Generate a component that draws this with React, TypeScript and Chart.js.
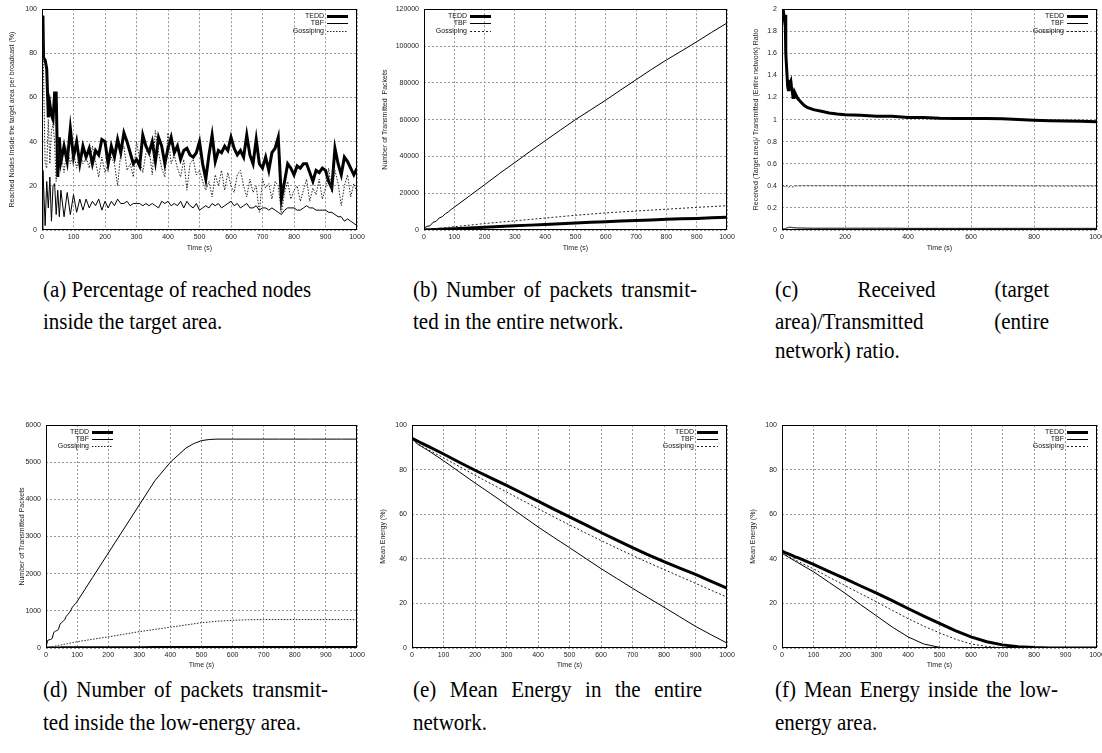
import React, { useEffect, useRef } from 'react';
import { Chart, registerables } from 'chart.js';

Chart.register(...registerables);

const FONT = '"Liberation Sans", Arial, Helvetica, sans-serif';
const SERIF = '"Liberation Serif", "Times New Roman", Times, serif';

// ---------- (a) Percentage of reached nodes inside the target area ----------
const timeA = [0, 3, 5, 10, 15, 20, 25, 30, 35, 40, 45, 50, 55,
  60, 70, 80, 90, 100, 110, 120, 130, 140, 150, 160, 170, 180, 190, 200,
  210, 220, 230, 240, 250, 260, 270, 280, 290, 300, 310, 320, 330, 340, 350, 360, 370, 380, 390, 400,
  410, 420, 430, 440, 450, 460, 470, 480, 490, 500, 510, 520, 530, 540, 550, 560, 570, 580, 590, 600,
  610, 620, 630, 640, 650, 660, 670, 680, 690, 700, 710, 720, 730, 740, 750, 760, 770, 780, 790, 800,
  810, 820, 830, 840, 850, 860, 870, 880, 890, 900, 910, 920, 930, 940, 950, 960, 970, 980, 990, 1000];
const teddA = [97, 96, 78, 77, 73, 51, 57, 52, 50, 62, 62, 24, 42,
  31, 38, 31, 46, 33, 40, 30, 38, 33, 37, 30, 36, 34, 41, 40,
  30, 38, 33, 41, 35, 44, 40, 35, 30, 32, 29, 43, 38, 35, 40, 31, 42, 38, 30, 37,
  42, 35, 38, 32, 36, 37, 34, 33, 35, 40, 30, 23, 34, 43, 31, 36, 35, 38, 36, 42,
  37, 34, 36, 33, 43, 34, 30, 41, 30, 28, 33, 27, 35, 37, 42, 14, 22, 30, 28, 25,
  29, 28, 30, 30, 26, 22, 27, 26, 28, 27, 22, 19, 37, 30, 25, 33, 31, 28, 25, 28];
const tbfA = [0, 27, 20, 2, 22, 10, 24, 4, 20, 21, 7, 18, 6,
  18, 6, 17, 7, 16, 8, 14, 9, 14, 10, 13, 11, 14, 9, 13,
  10, 13, 11, 14, 12, 12, 13, 11, 12, 12, 12, 11, 12, 11, 12, 11, 10, 13, 12, 13,
  11, 12, 11, 13, 10, 13, 11, 10, 12, 9, 10, 11, 10, 12, 11, 12, 10, 11, 12, 13,
  11, 12, 10, 11, 12, 10, 10, 11, 9, 10, 10, 9, 10, 9, 8, 7, 9, 10, 10, 10,
  9, 9, 10, 11, 10, 10, 9, 9, 9, 9, 8, 8, 7, 6, 6, 4, 5, 4, 3, 2];
const gossipA = [60, 88, 70, 30, 28, 50, 30, 45, 48, 40, 22, 42, 30,
  35, 26, 38, 30, 35, 28, 35, 30, 33, 28, 38, 31, 24, 33, 26,
  30, 33, 30, 20, 35, 38, 27, 30, 24, 40, 32, 26, 35, 37, 25, 45, 35, 28, 24, 44,
  30, 34, 28, 24, 32, 18, 30, 32, 25, 27, 22, 18, 22, 15, 25, 20, 27, 18, 26, 20,
  17, 25, 27, 20, 15, 23, 17, 20, 8, 23, 19, 21, 14, 22, 20, 8, 17, 22, 14, 18,
  20, 13, 18, 23, 13, 19, 16, 23, 14, 19, 28, 17, 27, 21, 11, 20, 25, 15, 21, 17];

// ---------- (b) Packets transmitted in the entire network ----------
const timeB = [0, 10, 20, 30, 40, 50, 60, 70, 80, 90, 100, 150, 200, 250, 300, 350, 400, 450, 500,
  550, 600, 650, 700, 750, 800, 850, 900, 950, 1000];
const teddB = [0, 70, 140, 210, 280, 350, 420, 490, 560, 630, 700, 1100, 1500, 1900, 2300, 2650, 3000, 3400, 3800,
  4150, 4500, 4850, 5200, 5500, 5800, 6050, 6300, 6600, 6900];
const tbfB = [1000, 2000, 2300, 4200, 4700, 6500, 7200, 8800, 9800, 11200, 12400, 18500, 24600, 30800, 36700, 42700, 48500, 54300, 60000,
  65300, 70600, 76200, 81700, 87200, 92400, 97300, 102300, 107500, 112500];
const gossipB = [0, 180, 360, 540, 720, 900, 1080, 1260, 1440, 1620, 1800, 2650, 3500, 4250, 5000, 5750, 6500, 7250, 8000,
  8650, 9300, 9800, 10300, 10800, 11300, 11800, 12300, 12750, 13200];

// ---------- (c) Received (target area) / Transmitted (entire network) ratio ----------
const timeC = [0, 3, 5, 8, 10, 12, 15, 18, 20, 22, 25, 28, 30, 33, 35, 38, 40, 45, 50, 60, 70, 80,
  100, 125, 150, 175, 200, 250, 300, 350, 400, 450, 500, 550, 600, 650, 700, 750, 800, 850, 900, 950, 1000];
const teddC = [2.0, 1.96, 1.97, 1.9, 1.95, 1.6, 1.45, 1.3, 1.27, 1.34, 1.33, 1.35, 1.3, 1.25, 1.2, 1.22, 1.25, 1.22, 1.19, 1.16, 1.13, 1.11,
  1.09, 1.075, 1.06, 1.05, 1.045, 1.04, 1.03, 1.03, 1.02, 1.02, 1.012, 1.01, 1.01, 1.01, 1.008, 1.002, 0.995, 0.99, 0.988, 0.985, 0.98];
const tbfC = [0, 0, 0.01, 0.01, 0.012, 0.015, 0.02, 0.02, 0.022, 0.025, 0.025, 0.025, 0.024, 0.022, 0.021, 0.02, 0.02, 0.019, 0.018, 0.018, 0.017, 0.017,
  0.016, 0.016, 0.016, 0.016, 0.016, 0.016, 0.016, 0.016, 0.015, 0.015, 0.015, 0.015, 0.015, 0.015, 0.015, 0.015, 0.015, 0.015, 0.015, 0.015, 0.015];
const gossipC = [0.38, 0.41, 0.4, 0.39, 0.385, 0.395, 0.4, 0.39, 0.385, 0.39, 0.395, 0.39, 0.392, 0.39, 0.395, 0.39, 0.395, 0.4, 0.398, 0.4, 0.4, 0.4,
  0.4, 0.4, 0.4, 0.4, 0.4, 0.4, 0.4, 0.4, 0.4, 0.4, 0.4, 0.4, 0.4, 0.4, 0.4, 0.399, 0.399, 0.398, 0.398, 0.398, 0.398];

// ---------- (d) Packets transmitted inside the low-energy area ----------
const timeD = [0, 5, 10, 15, 20, 25, 30, 35, 40, 45, 50, 55, 60, 65, 70, 75, 80, 85, 90, 95, 100,
  150, 200, 250, 300, 350, 400, 450, 475, 500, 525, 550, 600, 650, 700, 750, 800, 850, 900, 950, 1000];
const teddD = [0, 1, 1, 2, 2, 2, 3, 3, 3, 3, 4, 4, 4, 4, 5, 5, 5, 5, 5, 6, 6,
  7, 8, 9, 10, 11, 12, 13, 13, 14, 14, 14, 15, 15, 15, 15, 15, 15, 15, 15, 15];
const tbfD = [0, 200, 220, 230, 260, 420, 450, 470, 500, 640, 680, 720, 760, 850, 900, 950, 1020, 1100, 1150, 1200, 1250,
  1900, 2550, 3200, 3850, 4500, 5000, 5380, 5500, 5580, 5610, 5620, 5620, 5620, 5620, 5620, 5620, 5620, 5620, 5620, 5620];
const gossipD = [0, 9, 17, 26, 34, 43, 52, 60, 68, 77, 86, 94, 102, 110, 119, 128, 136, 144, 153, 162, 170,
  235, 300, 370, 440, 500, 560, 620, 650, 680, 700, 720, 745, 760, 765, 765, 765, 765, 765, 765, 765];

// ---------- (e) Mean energy in the entire network ----------
const timeE = [0, 10, 20, 30, 40, 50, 100, 150, 200, 250, 300, 350, 400, 450, 500, 550, 600, 650, 700, 750, 800, 850, 900, 950, 1000];
const teddE = [94, 93.3, 92.6, 91.9, 91.2, 90.5, 87, 83.3, 79.7, 76.3, 72.9, 69.4, 65.9, 62.3, 58.8, 55.3, 51.8, 48.4, 45, 41.8, 38.7, 35.8, 33, 29.9, 26.8];
const tbfE = [94, 92.5, 91.2, 90.4, 89.5, 88.7, 84, 79, 74, 69.2, 64.3, 59.3, 54.3, 49.6, 45, 40.3, 35.6, 31.2, 26.8, 22.5, 18.3, 14, 9.7, 5.9, 2.2];
const gossipE = [93.5, 92.5, 91.3, 90.6, 89.8, 89, 85.3, 81.4, 77.5, 73.7, 70, 66.2, 62.5, 58.8, 55.2, 51.7, 48.2, 44.8, 41.5, 38.3, 35.2, 32.1, 29, 25.9, 22.8];

// ---------- (f) Mean energy inside the low-energy area ----------
const timeF = [0, 10, 20, 30, 40, 50, 100, 150, 200, 250, 300, 350, 400, 450, 500, 550, 600, 650, 700, 750, 800, 850, 900, 950, 1000];
const teddF = [43.5, 42.8, 42.2, 41.6, 41, 40.5, 37.5, 34.3, 31.1, 27.8, 24.6, 21.2, 17.7, 14.3, 11, 7.8, 5, 2.8, 1.4, 0.6, 0.2, 0, 0, 0, 0];
const tbfF = [42.5, 41.6, 40.8, 39.9, 39.1, 38.3, 34.2, 29.4, 24.6, 19.4, 14.4, 9.4, 5, 1.8, 0.3, 0, 0, 0, 0, 0, 0, 0, 0, 0, 0];
const gossipF = [42.5, 41.8, 41.1, 40.3, 39.6, 38.9, 35.5, 31.7, 28, 24.3, 20.7, 16.9, 13.2, 9.8, 6.8, 4, 1.8, 0.7, 0.1, 0, 0, 0, 0, 0, 0];

const SERIES_LABELS = ['TEDD', 'TBF', 'Gossiping'];
const X_TITLE = 'Time (s)';

type Spec = {
  left: number; top: number; width: number; height: number;
  padLeft: number; padTop: number; padRight: number;
  yWidth: number; xHeight: number; xTitlePad: number;
  yMin: number; yMax: number; yStep: number; xStep: number;
  yTitle: string; legendSide: 'left' | 'right';
  times: number[]; series: number[][]; gossipDash: number[];
};

const TOP = { top: 0, height: 260, padTop: 6, xHeight: 30, xTitlePad: 7.8 };
const BOT = { top: 400, height: 275, padTop: 25, xHeight: 27, xTitlePad: 5.8 };

const specs: Spec[] = [
  { left: 0, width: 370, ...TOP, padLeft: 8, yWidth: 34, padRight: 13,
    yMin: 0, yMax: 100, yStep: 20, xStep: 100, yTitle: 'Reached Nodes Inside the target area per broadcast (%)',
    legendSide: 'right', times: timeA, series: [teddA, tbfA, gossipA], gossipDash: [1.5, 1.5] },
  { left: 370, width: 370, ...TOP, padLeft: 11, yWidth: 43, padRight: 13,
    yMin: 0, yMax: 120000, yStep: 20000, xStep: 100, yTitle: 'Number of Transmitted  Packets',
    legendSide: 'left', times: timeB, series: [teddB, tbfB, gossipB], gossipDash: [2, 2] },
  { left: 740, width: 380, ...TOP, padLeft: 12, yWidth: 30, padRight: 23,
    yMin: 0, yMax: 2, yStep: 0.2, xStep: 200, yTitle: 'Received (Target area)/ Transmitted (Entire network) Ratio',
    legendSide: 'right', times: timeC, series: [teddC, tbfC, gossipC], gossipDash: [2, 2] },
  { left: 0, width: 370, ...BOT, padLeft: 17.5, yWidth: 28.5, padRight: 13,
    yMin: 0, yMax: 6000, yStep: 1000, xStep: 100, yTitle: 'Number of Transmitted Packets',
    legendSide: 'left', times: timeD, series: [teddD, tbfD, gossipD], gossipDash: [1.5, 1.5] },
  { left: 370, width: 370, ...BOT, padLeft: 9, yWidth: 33, padRight: 13,
    yMin: 0, yMax: 100, yStep: 20, xStep: 100, yTitle: 'Mean Energy (%)',
    legendSide: 'right', times: timeE, series: [teddE, tbfE, gossipE], gossipDash: [2, 2] },
  { left: 740, width: 380, ...BOT, padLeft: 9, yWidth: 33, padRight: 23,
    yMin: 0, yMax: 100, yStep: 20, xStep: 100, yTitle: 'Mean Energy (%)',
    legendSide: 'right', times: timeF, series: [teddF, tbfF, gossipF], gossipDash: [2, 2] },
];

type Cap = { x: number; y: number; w?: number; text: string };
const captions: Cap[] = [
  { x: 43, y: 289, text: '(a) Percentage of reached nodes' },
  { x: 43, y: 321, text: 'inside the target area.' },
  { x: 413, y: 289, w: 284, text: '(b) Number of packets transmit-' },
  { x: 413, y: 321, text: 'ted in the entire network.' },
  { x: 775, y: 289, w: 274, text: '(c) Received (target' },
  { x: 775, y: 321, w: 274, text: 'area)/Transmitted (entire' },
  { x: 775, y: 350, text: 'network) ratio.' },
  { x: 43, y: 689, w: 285, text: '(d) Number of packets transmit-' },
  { x: 43, y: 722, text: 'ted inside the low-energy area.' },
  { x: 413, y: 689, w: 289, text: '(e) Mean Energy in the entire' },
  { x: 413, y: 722, text: 'network.' },
  { x: 775, y: 689, w: 283, text: '(f) Mean Energy inside the low-' },
  { x: 775, y: 722, text: 'energy area.' },
];

const framePlugin = {
  id: 'gnuFrame',
  afterDatasetsDraw(chart: any) {
    const { ctx, chartArea: a } = chart;
    ctx.save();
    ctx.strokeStyle = '#000';
    ctx.lineWidth = 1;
    ctx.setLineDash([]);
    ctx.strokeRect(Math.round(a.left) + 0.5, Math.round(a.top) + 0.5,
      Math.round(a.right - a.left) - 1, Math.round(a.bottom - a.top) - 1);
    ctx.restore();
  },
};

function makeLegendPlugin(side: 'left' | 'right') {
  return {
    id: 'gnuLegend',
    afterDraw(chart: any) {
      const { ctx, chartArea: a } = chart;
      ctx.save();
      ctx.font = `7px ${FONT}`;
      ctx.fillStyle = '#111';
      ctx.textAlign = 'right';
      ctx.textBaseline = 'middle';
      chart.data.datasets.forEach((ds: any, i: number) => {
        const y = a.top + 7 + i * 7.2;
        let textRight: number;
        let s0: number;
        if (side === 'right') {
          const s1 = a.right - 9;
          s0 = s1 - 21;
          textRight = s0 - 3;
        } else {
          textRight = a.left + 43;
          s0 = textRight + 3;
        }
        ctx.fillText(ds.label, textRight, y);
        ctx.beginPath();
        ctx.strokeStyle = ds.borderColor;
        ctx.lineWidth = ds.borderWidth;
        ctx.setLineDash(ds.borderDash || []);
        ctx.moveTo(s0, Math.round(y) + 0.5);
        ctx.lineTo(s0 + 21, Math.round(y) + 0.5);
        ctx.stroke();
        ctx.setLineDash([]);
      });
      ctx.restore();
    },
  };
}

function fmt(v: number) {
  return String(Math.round(v * 1000) / 1000);
}

function GnuChart({ spec }: { spec: Spec }) {
  const ref = useRef<HTMLCanvasElement | null>(null);
  useEffect(() => {
    if (!ref.current) return;
    const font = { family: FONT, size: 7 };
    const styles = [
      { borderWidth: 3, borderColor: '#000', borderDash: [] as number[] },
      { borderWidth: 1, borderColor: '#000', borderDash: [] as number[] },
      { borderWidth: 1, borderColor: '#222', borderDash: spec.gossipDash },
    ];
    const datasets = spec.series.map((vals, i) => ({
      label: SERIES_LABELS[i],
      data: spec.times.map((t, j) => ({ x: t, y: vals[j] })),
      borderColor: styles[i].borderColor,
      borderWidth: styles[i].borderWidth,
      borderDash: styles[i].borderDash,
      pointRadius: 0,
      tension: 0,
      fill: false,
      order: 3 - i,
    }));
    const grid = { color: '#999', lineWidth: 1, drawTicks: false };
    const border = { display: false, dash: [2, 2] };
    const chart = new Chart(ref.current, {
      type: 'line',
      data: { datasets },
      options: {
        animation: false,
        responsive: false,
        maintainAspectRatio: false,
        devicePixelRatio: 1,
        layout: { padding: { left: spec.padLeft, top: spec.padTop, right: spec.padRight, bottom: 0 } },
        plugins: { legend: { display: false }, tooltip: { enabled: false } },
        scales: {
          x: {
            type: 'linear', min: 0, max: 1000,
            ticks: { stepSize: spec.xStep, font, color: '#222', padding: 3, maxRotation: 0, autoSkip: false, callback: (v: any) => fmt(Number(v)) },
            grid, border,
            title: { display: true, text: X_TITLE, font, color: '#222', padding: { top: 0, bottom: spec.xTitlePad } },
            afterFit: (s: any) => { s.height = spec.xHeight; },
          },
          y: {
            type: 'linear', min: spec.yMin, max: spec.yMax,
            ticks: { stepSize: spec.yStep, font, color: '#222', padding: 5, autoSkip: false, callback: (v: any) => fmt(Number(v)) },
            grid, border,
            title: { display: true, text: spec.yTitle, font, color: '#222', padding: { top: 0, bottom: 0 } },
            afterFit: (s: any) => { s.width = spec.yWidth; },
          },
        },
      } as any,
      plugins: [framePlugin, makeLegendPlugin(spec.legendSide)],
    });
    return () => chart.destroy();
  }, [spec]);
  return (
    <canvas
      ref={ref}
      width={spec.width}
      height={spec.height}
      style={{ position: 'absolute', left: spec.left, top: spec.top, width: spec.width, height: spec.height }}
    />
  );
}

export default function App() {
  return (
    <div style={{ position: 'fixed', left: 0, top: 0, width: 1102, height: 753, overflow: 'hidden', background: '#fff' }}>
      {specs.map((s, i) => <GnuChart key={i} spec={s} />)}
      {captions.map((c, i) => (
        <div
          key={'c' + i}
          style={{
            position: 'absolute', left: c.x, top: c.y - 12, height: 24, lineHeight: '24px',
            width: c.w ? c.w : undefined, whiteSpace: 'nowrap',
            textAlign: c.w ? 'justify' : 'left', textAlignLast: c.w ? 'justify' : 'auto',
            fontFamily: SERIF, fontSize: 21, color: '#000',
            transform: 'scaleY(1.08)', transformOrigin: 'center center',
          } as any}
        >
          {c.text}
        </div>
      ))}
    </div>
  );
}
